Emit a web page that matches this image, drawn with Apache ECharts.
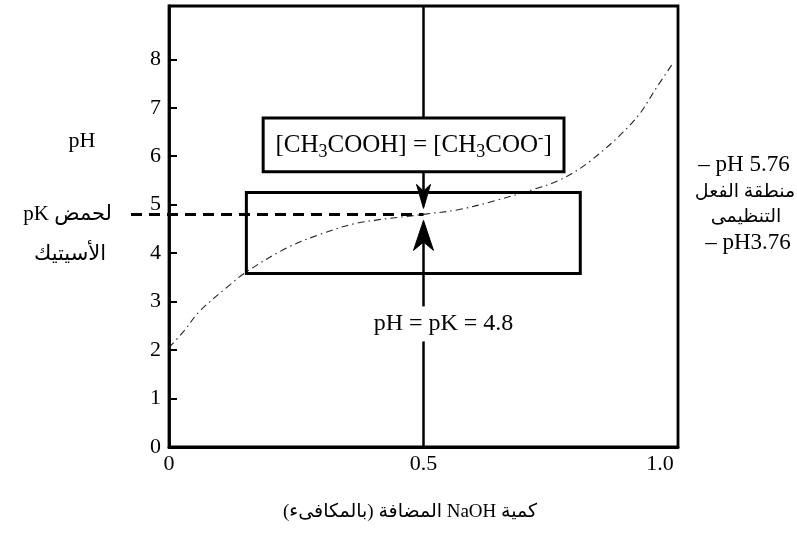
<!DOCTYPE html>
<html>
<head>
<meta charset="utf-8">
<script src="https://cdn.jsdelivr.net/npm/echarts@6/dist/echarts.min.js"></script>
<style>
  html, body { margin: 0; padding: 0; background: #fff; }
  #chart { width: 797px; height: 540px; }
</style>
</head>
<body>
<div id="chart"></div>
<script>
// Titration of acetic acid with NaOH (equivalents added vs pH)
const naohEquivalents = [0, 0.03, 0.06, 0.12, 0.15, 0.23, 0.30, 0.37, 0.50, 0.57, 0.64, 0.72, 0.77, 0.83, 0.915, 0.96, 0.99];
const phValues       = [2.05, 2.4, 2.8, 3.35, 3.6, 4.1, 4.4, 4.62, 4.8, 4.9, 5.08, 5.33, 5.52, 5.92, 6.75, 7.45, 7.92];

const phTicks = [0, 1, 2, 3, 4, 5, 6, 7, 8];
const equivTicks = [0, 0.5, 1.0];
const equivTickLabels = ['0', '0.5', '1.0'];

const pK = 4.8;                  // pK of acetic acid
const halfEquivalence = 0.5;     // point where [CH3COOH] = [CH3COO-]
const bufferEquivRange = [0.152, 0.808];
const bufferPhRange = [3.58, 5.25];

const FONT = '"Liberation Serif", "DejaVu Serif", serif';
const MIXED_FONT = '"Liberation Serif", "DejaVu Sans", sans-serif';
const INK = '#000';

// right-to-left embedding for Arabic phrases that contain Latin words
const rtl = (s) => '\u202B' + s + '\u202C';

const chart = echarts.init(document.getElementById('chart'), null, { renderer: 'canvas' });

// arrowhead polygon: tip at (x, y), pointing up (dir = -1) or down (dir = 1)
function arrowHead(x, y, w, h, dir) {
  return {
    type: 'polygon',
    shape: { points: [
      [x, y],
      [x - w / 2, y - dir * h],
      [x, y - dir * h * 0.72],
      [x + w / 2, y - dir * h]
    ] },
    style: { fill: INK, stroke: INK, lineWidth: 1 }
  };
}

const curveData = naohEquivalents.map((x, i) => [x, phValues[i]]);

const option = {
  backgroundColor: '#fff',
  animation: false,
  grid: {
    left: 169, right: 119, top: 6, bottom: 93,
    show: true, borderColor: INK, borderWidth: 2.8, backgroundColor: 'transparent'
  },
  xAxis: {
    type: 'value', min: 0, max: 1,
    axisLine: { show: true, lineStyle: { color: INK, width: 2.8 } },
    axisTick: { show: false },
    splitLine: { show: false },
    axisLabel: {
      customValues: equivTicks,
      color: INK, fontFamily: FONT, fontSize: 22, margin: 6,
      formatter: (v) => {
        const i = equivTicks.findIndex(t => Math.abs(t - v) < 1e-9);
        const txt = i >= 0 ? equivTickLabels[i] : '';
        return v >= 1 ? '{end|' + txt + '}' : txt;
      },
      rich: { end: { color: INK, fontFamily: FONT, fontSize: 22, padding: [0, 36, 0, 0] } }
    }
  },
  yAxis: {
    type: 'value', min: 0, max: 9.1,
    axisLine: { show: true, lineStyle: { color: INK, width: 2.8 } },
    axisTick: {
      show: true, inside: true, length: 8,
      customValues: phTicks.filter(v => v > 0),
      lineStyle: { color: INK, width: 2 }
    },
    splitLine: { show: false },
    axisLabel: {
      customValues: phTicks,
      color: INK, fontFamily: FONT, fontSize: 22, margin: 8
    }
  },
  series: [
    {
      // titration curve
      type: 'line',
      data: curveData,
      smooth: 0.35,
      showSymbol: false,
      lineStyle: { color: '#222', width: 1.1, type: [7, 4, 1.5, 4] },
      z: 3
    },
    {
      // buffering region
      type: 'custom',
      coordinateSystem: 'cartesian2d',
      clip: false, silent: true,
      data: [[bufferEquivRange[0], bufferPhRange[0], bufferEquivRange[1], bufferPhRange[1]]],
      renderItem: (params, api) => {
        const a = api.coord([api.value(0), api.value(1)]);
        const b = api.coord([api.value(2), api.value(3)]);
        return {
          type: 'rect',
          shape: { x: a[0], y: b[1], width: b[0] - a[0], height: a[1] - b[1] },
          style: { fill: 'none', stroke: INK, lineWidth: 3 }
        };
      },
      z: 4
    },
    {
      // pK dashed line, reaching out past the axis to its label
      type: 'custom',
      coordinateSystem: 'cartesian2d',
      clip: false, silent: true,
      data: [[halfEquivalence, pK]],
      renderItem: (params, api) => {
        const p = api.coord([api.value(0), api.value(1)]);
        const o = api.coord([0, api.value(1)]);
        return {
          type: 'line',
          shape: { x1: o[0] - 38, y1: p[1], x2: p[0], y2: p[1] },
          style: { stroke: INK, lineWidth: 3, lineDash: [11, 7] }
        };
      },
      z: 5
    },
    {
      // half-equivalence marker: vertical line, label box and arrows
      type: 'custom',
      coordinateSystem: 'cartesian2d',
      clip: false, silent: true,
      data: [[halfEquivalence, pK]],
      renderItem: (params, api) => {
        const p = api.coord([api.value(0), api.value(1)]);
        const px = p[0], py = p[1];
        const top = api.coord([0, 9.1])[1];
        const bottom = api.coord([0, 0])[1];
        const boxA = api.coord([0.185, 6.79]);
        const boxB = api.coord([0.776, 5.68]);
        const textY = api.coord([0, 2.55])[1];
        const topTip = py - 6, botTip = py + 6;
        return {
          type: 'group',
          children: [
            { type: 'line', shape: { x1: px, y1: top, x2: px, y2: boxA[1] },
              style: { stroke: INK, lineWidth: 2.5 } },
            { type: 'rect',
              shape: { x: boxA[0], y: boxA[1], width: boxB[0] - boxA[0], height: boxB[1] - boxA[1] },
              style: { fill: '#fff', stroke: INK, lineWidth: 3 } },
            { type: 'text',
              x: (boxA[0] + boxB[0]) / 2, y: (boxA[1] + boxB[1]) / 2 + 1,
              style: {
                text: '{n|[CH}{s|3}{n|COOH] = [CH}{s|3}{n|COO}{u|-}{n|]}',
                align: 'center', verticalAlign: 'middle',
                rich: {
                  n: { fontFamily: FONT, fontSize: 25, fill: INK, lineHeight: 30 },
                  s: { fontFamily: FONT, fontSize: 18, fill: INK, verticalAlign: 'bottom', lineHeight: 30, padding: [8, 0, 0, 0] },
                  u: { fontFamily: FONT, fontSize: 16, fill: INK, verticalAlign: 'top', lineHeight: 30 }
                }
              } },
            { type: 'line', shape: { x1: px, y1: boxB[1], x2: px, y2: topTip - 16 },
              style: { stroke: INK, lineWidth: 2.5 } },
            arrowHead(px, topTip, 14, 24, 1),
            arrowHead(px, botTip, 20, 30, -1),
            { type: 'line', shape: { x1: px, y1: botTip + 20, x2: px, y2: textY - 17 },
              style: { stroke: INK, lineWidth: 2.5 } },
            { type: 'text', x: px + 20, y: textY,
              style: { text: 'pH = pK = ' + pK, fontFamily: FONT, fontSize: 24, fill: INK,
                       align: 'center', verticalAlign: 'middle' } },
            { type: 'line', shape: { x1: px, y1: textY + 18, x2: px, y2: bottom },
              style: { stroke: INK, lineWidth: 2.5 } }
          ]
        };
      },
      z: 6
    }
  ],
  graphic: [
    { type: 'text', x: 82, y: 141,
      style: { text: 'pH', fontFamily: FONT, fontSize: 22, fill: INK,
               align: 'center', verticalAlign: 'middle' } },
    { type: 'text', x: 112, y: 214,
      style: { text: 'pK لحمض', fontFamily: MIXED_FONT, fontSize: 21, fill: INK,
               align: 'right', verticalAlign: 'middle' } },
    { type: 'text', x: 70, y: 254,
      style: { text: 'الأسيتيك', fontFamily: MIXED_FONT, fontSize: 21, fill: INK,
               align: 'center', verticalAlign: 'middle' } },
    { type: 'text', x: 744, y: 165,
      style: { text: '– pH 5.76', fontFamily: FONT, fontSize: 23, fill: INK,
               align: 'center', verticalAlign: 'middle' } },
    { type: 'text', x: 745, y: 192,
      style: { text: 'منطقة الفعل', fontFamily: MIXED_FONT, fontSize: 19, fill: INK,
               align: 'center', verticalAlign: 'middle' } },
    { type: 'text', x: 746, y: 217,
      style: { text: 'التنظيمى', fontFamily: MIXED_FONT, fontSize: 19, fill: INK,
               align: 'center', verticalAlign: 'middle' } },
    { type: 'text', x: 748, y: 243,
      style: { text: '– pH3.76', fontFamily: FONT, fontSize: 23, fill: INK,
               align: 'center', verticalAlign: 'middle' } },
    { type: 'text', x: 410, y: 512,
      style: { text: rtl('كمية NaOH المضافة (بالمكافىء)'), fontFamily: MIXED_FONT, fontSize: 19, fill: INK,
               align: 'center', verticalAlign: 'middle' } }
  ]
};

chart.setOption(option);
</script>
</body>
</html>
